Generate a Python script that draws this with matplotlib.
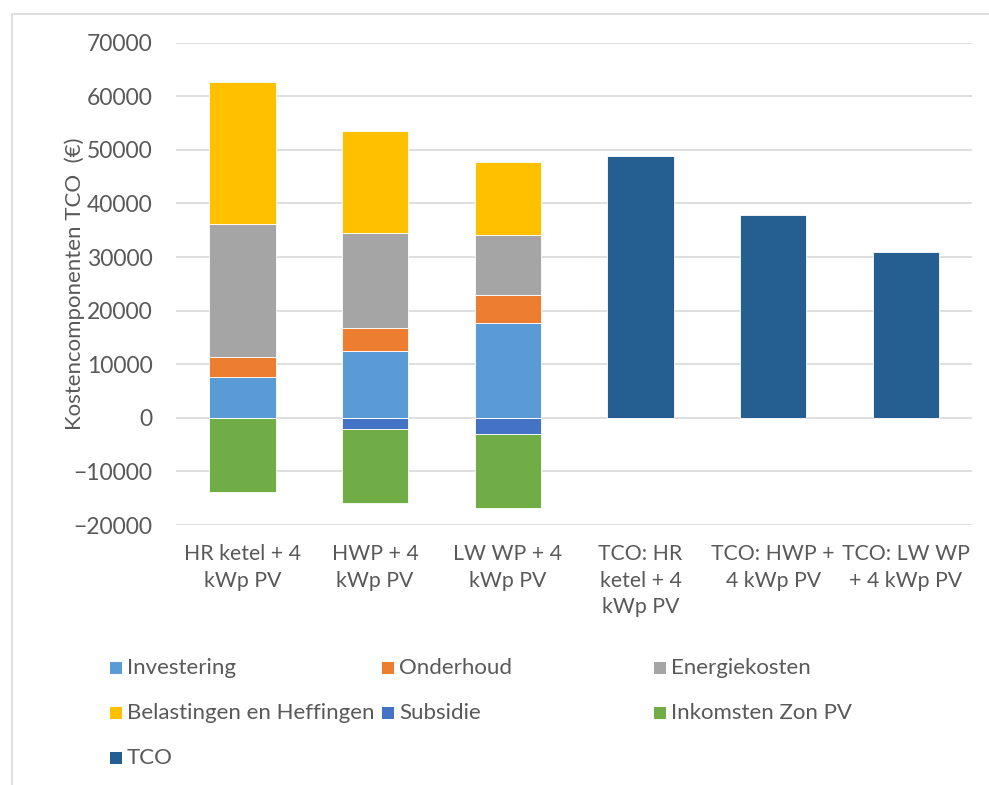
import numpy as np
import matplotlib
matplotlib.use("Agg")
import matplotlib.pyplot as plt
from matplotlib.patches import Rectangle

plt.rcParams['font.family'] = ['Lato', 'DejaVu Sans']

categories = ['HR ketel + 4\nkWp PV', 'HWP + 4\nkWp PV', 'LW WP + 4\nkWp PV',
              'TCO: HR\nketel + 4\nkWp PV', 'TCO: HWP +\n4 kWp PV', 'TCO: LW WP\n+ 4 kWp PV']
investering = [7600, 12400, 17700, 0, 0, 0]
onderhoud = [3700, 4450, 5300, 0, 0, 0]
energiekosten = [24950, 17550, 11150, 0, 0, 0]
belastingen = [26450, 19150, 13650, 0, 0, 0]
subsidie = [0, -2050, -3050, 0, 0, 0]
zon_pv = [-13750, -13750, -13750, 0, 0, 0]
tco = [0, 0, 0, 48900, 37900, 31000]

txt = '#595959'
fig = plt.figure(figsize=(9.89, 7.85), dpi=100)
fig.patches.append(Rectangle((12 / 989, -0.05), 1.1, 1 - 14 / 785 + 0.05,
                             transform=fig.transFigure, fill=False,
                             edgecolor='#D9D9D9', linewidth=1.2))
ax = fig.add_axes([0.178, 0.3312, 0.805, 0.6144])

x = np.arange(len(categories))
w = 0.5
kw = dict(width=w, edgecolor='white', linewidth=0.6, zorder=3)

pos_series = [('Investering', investering, '#5B9BD5'),
              ('Onderhoud', onderhoud, '#ED7D31'),
              ('Energiekosten', energiekosten, '#A5A5A5'),
              ('Belastingen en Heffingen', belastingen, '#FFC000')]
neg_series = [('Subsidie', subsidie, '#4472C4'),
              ('Inkomsten Zon PV', zon_pv, '#70AD47')]

bottom = np.zeros(len(x))
for name, vals, col in pos_series:
    ax.bar(x, vals, bottom=bottom, color=col, **kw)
    bottom += np.array(vals)
bottom = np.zeros(len(x))
for name, vals, col in neg_series:
    ax.bar(x, vals, bottom=bottom, color=col, **kw)
    bottom += np.array(vals)
ax.bar(x, tco, color='#255E91', **kw)

ax.set_ylim(-20000, 70000)
ax.set_xlim(-0.5, len(x) - 0.5)
ax.set_yticks(np.arange(-20000, 70001, 10000))
ax.yaxis.grid(True, color='#D9D9D9', linewidth=1.2, zorder=0)
ax.set_axisbelow(True)
for s in ax.spines.values():
    s.set_visible(False)
ax.tick_params(length=0, labelsize=16, labelcolor=txt)
ax.tick_params(axis='y', pad=17, labelsize=16.5)
ax.tick_params(axis='x', pad=14, labelsize=15.3)
ax.set_xticks(x)
ax.set_xticklabels(categories, linespacing=1.4)
ax.set_ylabel('Kostencomponenten TCO  (€)', fontsize=16, color=txt, labelpad=-8)

# legend, three equal columns like the original
legend = pos_series[:3] + [pos_series[3]] + neg_series + [('TCO', None, '#255E91')]
col_x = [110, 382, 654]
row_y = [668, 713, 758]
for i, (name, _, col) in enumerate(legend):
    px = col_x[i % 3]
    py = row_y[i // 3]
    fig.patches.append(Rectangle((px / 989, 1 - (py + 6) / 785), 12 / 989, 12 / 785,
                                 transform=fig.transFigure, facecolor=col,
                                 edgecolor='none'))
    fig.text((px + 17) / 989, 1 - py / 785, name, fontsize=16, color=txt,
             va='center', ha='left')

fig.savefig('out.png', dpi=100)
